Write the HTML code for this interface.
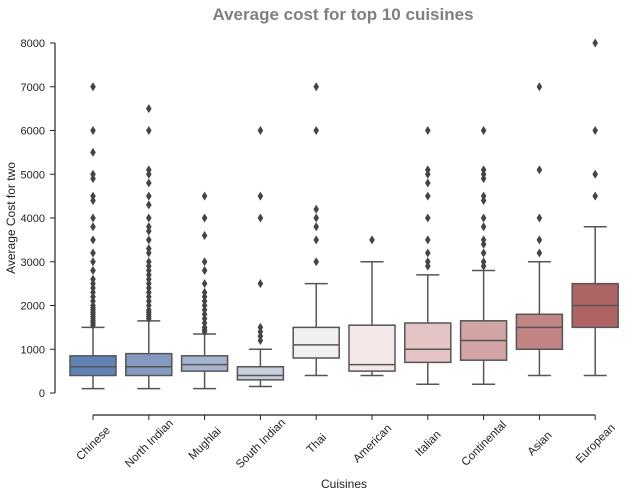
<!DOCTYPE html>
<html><head><meta charset="utf-8"><style>
body{margin:0;background:#fff;font-family:"Liberation Sans",sans-serif}
</style></head><body>
<svg id="c" width="636" height="497" xmlns="http://www.w3.org/2000/svg">
<text x="343" y="20" text-anchor="middle" font-size="17" font-weight="bold" fill="#808080">Average cost for top 10 cuisines</text>
<text x="344" y="488" text-anchor="middle" font-size="12" fill="#222">Cuisines</text>
<text transform="translate(15,218) rotate(-90)" text-anchor="middle" font-size="12" fill="#222">Average Cost for two</text>
<g id="g"></g>
</svg>
<script>
const categories=["Chinese","North Indian","Mughlai","South Indian","Thai","American","Italian","Continental","Asian","European"];
const q1=[400,400,500,300,800,500,700,750,1000,1500];
const medians=[600,600,650,400,1100,650,1000,1200,1500,2000];
const q3=[850,900,850,600,1500,1550,1600,1650,1800,2500];
const whiskLow=[100,100,100,150,400,400,200,200,400,400];
const whiskHigh=[1500,1650,1350,1000,2500,3000,2700,2800,3000,3800];
const outliers=[
[1550,1600,1650,1700,1750,1800,1850,1900,1950,2000,2100,2200,2300,2400,2500,2600,2800,3000,3200,3500,3800,4000,4400,4500,4900,5000,5500,6000,7000],
[1700,1750,1800,1850,1900,2000,2100,2200,2300,2400,2500,2600,2700,2800,2900,3000,3200,3300,3500,3700,3800,4000,4300,4500,4800,5000,5100,6000,6500],
[1400,1450,1500,1600,1700,1800,1900,2000,2100,2200,2300,2500,2800,3000,3600,4000,4500],
[1200,1300,1400,1500,2500,4000,4500,6000],
[3000,3500,3800,4000,4200,6000,7000],
[3500],
[2900,3000,3200,3500,4000,4500,4800,5000,5100,6000],
[2900,3000,3200,3400,3500,3800,4000,4400,4500,4900,5000,5100,6000],
[3200,3500,4000,5100,7000],
[4500,5000,6000,8000]];
const colors=["#5f83b6","#8399c0","#a5b3cd","#c8cfdc","#f0f0f1","#f4e8e8","#e4c4c5","#d3a4a5","#c08484","#ae6365"];
const yTicks=[0,1000,2000,3000,4000,5000,6000,7000,8000];
const NS="http://www.w3.org/2000/svg",g=document.getElementById("g");
const y=v=>393-v*0.04375, x=i=>93+i*55.8;
function mk(t,a){const e=document.createElementNS(NS,t);for(const k in a)e.setAttribute(k,a[k]);g.appendChild(e);return e;}
let e=mk("line",{x1:55,x2:55,y1:43,y2:393,stroke:"#222","stroke-width":1.2});

e=mk("line",{x1:x(0),x2:x(categories.length-1),y1:415,y2:415,stroke:"#222","stroke-width":1.2});

yTicks.forEach(v=>{
 e=mk("line",{x1:50,x2:55,y1:y(v),y2:y(v),stroke:"#222"});
 
 e=mk("text",{x:45,y:y(v)+4,"text-anchor":"end","font-size":11,fill:"#222"});e.textContent=v;
 
});
categories.forEach((c,i)=>{
 const cx=x(i),w=46,st="#555";
 e=mk("line",{x1:cx,x2:cx,y1:415,y2:420,stroke:"#222"});
 
 e=mk("text",{transform:`translate(${cx+2.8},${446}) rotate(-45)`,"text-anchor":"middle","font-size":11.5,fill:"#222"});e.textContent=c;
 
 e=mk("line",{x1:cx,x2:cx,y1:y(whiskHigh[i]),y2:y(q3[i]),stroke:st,"stroke-width":1.5});
 
 e=mk("line",{x1:cx,x2:cx,y1:y(q1[i]),y2:y(whiskLow[i]),stroke:st,"stroke-width":1.5});
 
 e=mk("line",{x1:cx-11.5,x2:cx+11.5,y1:y(whiskHigh[i]),y2:y(whiskHigh[i]),stroke:st,"stroke-width":1.5});
 
 e=mk("line",{x1:cx-11.5,x2:cx+11.5,y1:y(whiskLow[i]),y2:y(whiskLow[i]),stroke:st,"stroke-width":1.5});
 
 e=mk("rect",{x:cx-w/2,y:y(q3[i]),width:w,height:y(q1[i])-y(q3[i]),fill:colors[i],stroke:st,"stroke-width":1.5});
 
 e=mk("line",{x1:cx-w/2,x2:cx+w/2,y1:y(medians[i]),y2:y(medians[i]),stroke:st,"stroke-width":1.5});
 
 outliers[i].forEach(v=>{
  const py=y(v);
  e=mk("path",{d:`M${cx},${py-4.5}L${cx+2.8},${py}L${cx},${py+4.5}L${cx-2.8},${py}Z`,fill:"#444"});
  
 });
});
</script>
</body></html>
